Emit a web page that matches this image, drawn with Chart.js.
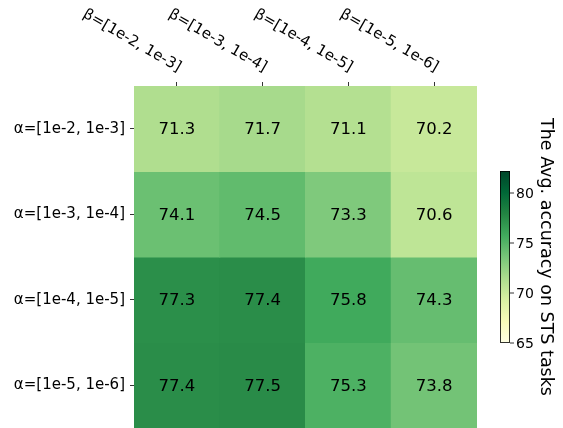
<!DOCTYPE html>
<html><head><meta charset="utf-8">
<script src="https://cdn.jsdelivr.net/npm/chart.js@4.4.0/dist/chart.umd.min.js"></script>
<style>html,body{margin:0;padding:0;background:#fff}#wrap{width:563px;height:428px}</style>
</head><body><div id="wrap"><canvas id="c" width="563" height="428"></canvas></div>
<script>
// Heatmap of average STS accuracy over alpha / beta ranges
const betaLabels = ['β=[1e-2, 1e-3]', 'β=[1e-3, 1e-4]', 'β=[1e-4, 1e-5]', 'β=[1e-5, 1e-6]'];
const alphaLabels = ['α=[1e-2, 1e-3]', 'α=[1e-3, 1e-4]', 'α=[1e-4, 1e-5]', 'α=[1e-5, 1e-6]'];
const rowAlpha1 = [71.3, 71.7, 71.1, 70.2];
const rowAlpha2 = [74.1, 74.5, 73.3, 70.6];
const rowAlpha3 = [77.3, 77.4, 75.8, 74.3];
const rowAlpha4 = [77.4, 77.5, 75.3, 73.8];
const colorMin = 65;
const colorMax = 82.2;
const colorbarTicks = [65, 70, 75, 80];
const colorbarTitle = 'The Avg. accuracy on STS tasks';

const rows = [rowAlpha1, rowAlpha2, rowAlpha3, rowAlpha4];
const FONT = '"DejaVu Sans", sans-serif';

// YlGn colour map stops
const ylgn = ['#ffffe5', '#f7fcb9', '#d9f0a3', '#addd8e', '#78c679', '#41ab5d', '#238443', '#006837', '#004529'];
function hexToRgb(h) { return [1, 3, 5].map(i => parseInt(h.slice(i, i + 2), 16)); }
const ylgnRgb = ylgn.map(hexToRgb);
function cmap(t) {
  t = Math.max(0, Math.min(1, t));
  const p = t * (ylgnRgb.length - 1);
  const i = Math.min(Math.floor(p), ylgnRgb.length - 2);
  const f = p - i;
  const a = ylgnRgb[i], b = ylgnRgb[i + 1];
  const c = a.map((v, k) => Math.round(v + (b[k] - v) * f));
  return `rgb(${c[0]},${c[1]},${c[2]})`;
}
function colorFor(v) { return cmap((v - colorMin) / (colorMax - colorMin)); }

const datasets = rows.map((vals, r) => ({
  label: alphaLabels[r],
  data: vals.map(() => [r, r + 1]),
  values: vals,
  backgroundColor: vals.map(colorFor),
  borderWidth: 0,
  grouped: false,
  barPercentage: 1,
  categoryPercentage: 1,
  inflateAmount: 0.5
}));

const overlay = {
  id: 'overlay',
  afterDatasetsDraw(chart) {
    const ctx = chart.ctx;
    ctx.save();
    ctx.fillStyle = '#000';
    ctx.font = '16.5px ' + FONT;
    ctx.textAlign = 'center';
    ctx.textBaseline = 'middle';
    chart.data.datasets.forEach((ds, i) => {
      chart.getDatasetMeta(i).data.forEach((bar, j) => {
        const p = bar.getCenterPoint();
        ctx.fillText(ds.values[j].toFixed(1), p.x, p.y + 1);
      });
    });
    ctx.restore();
  },
  afterDraw(chart) {
    const ctx = chart.ctx;
    const xs = chart.scales.x;
    ctx.save();
    // slanted column labels above the top axis
    ctx.fillStyle = '#000';
    ctx.font = '15px ' + FONT;
    xs.ticks.forEach((t, i) => {
      const x = xs.getPixelForTick(i);
      ctx.save();
      ctx.translate(x + 1, 72);
      ctx.rotate(Math.PI / 6);
      ctx.textAlign = 'right';
      ctx.textBaseline = 'alphabetic';
      ctx.fillText(betaLabels[i], 0, 0);
      ctx.restore();
    });

    // colour bar
    const cx0 = 500, cx1 = 510, cTop = 171, cBot = 343;
    const grad = ctx.createLinearGradient(0, cBot, 0, cTop);
    ylgn.forEach((c, i) => grad.addColorStop(i / (ylgn.length - 1), c));
    ctx.fillStyle = grad;
    ctx.fillRect(cx0, cTop, cx1 - cx0, cBot - cTop);
    ctx.strokeStyle = '#000';
    ctx.lineWidth = 0.8;
    ctx.strokeRect(cx0 + 0.4, cTop + 0.4, cx1 - cx0 - 0.8, cBot - cTop - 0.8);
    ctx.font = '14px ' + FONT;
    ctx.textAlign = 'left';
    ctx.textBaseline = 'middle';
    ctx.fillStyle = '#000';
    colorbarTicks.forEach(v => {
      const y = cBot - (v - colorMin) / (colorMax - colorMin) * (cBot - cTop);
      ctx.beginPath();
      ctx.moveTo(cx1, y);
      ctx.lineTo(cx1 + 4, y);
      ctx.lineWidth = 0.8;
      ctx.stroke();
      ctx.fillText(String(v), cx1 + 6, y + 1);
    });
    ctx.save();
    ctx.translate(546, (cTop + cBot) / 2);
    ctx.rotate(Math.PI / 2);
    ctx.font = '17.5px ' + FONT;
    ctx.textAlign = 'center';
    ctx.textBaseline = 'middle';
    ctx.fillText(colorbarTitle, 0, 0);
    ctx.restore();
    ctx.restore();
  }
};

new Chart(document.getElementById('c'), {
  type: 'bar',
  data: { labels: betaLabels, datasets },
  options: {
    responsive: false,
    animation: false,
    events: [],
    layout: { padding: { left: 0, right: 86, top: 0, bottom: 0 } },
    plugins: { legend: { display: false }, tooltip: { enabled: false } },
    scales: {
      x: {
        type: 'category',
        position: 'top',
        offset: true,
        grid: { offset: false, drawOnChartArea: false, drawTicks: true, tickLength: 4, tickColor: '#000', tickWidth: 0.8 },
        border: { display: false },
        ticks: { display: false },
        afterFit(s) { s.height = 86; s.paddingLeft = 0; s.paddingRight = 0; }
      },
      y: {
        type: 'linear',
        min: 0,
        max: 4,
        reverse: true,
        afterBuildTicks(s) { s.ticks = [0.5, 1.5, 2.5, 3.5].map(v => ({ value: v })); },
        grid: { drawOnChartArea: false, drawTicks: true, tickLength: 4, tickColor: '#000', tickWidth: 0.8 },
        border: { display: false },
        ticks: {
          padding: 5,
          color: '#000',
          font: { family: FONT, size: 15 },
          callback: (v, i) => alphaLabels[i]
        },
        afterFit(s) { s.width = 134; s.paddingTop = 0; s.paddingBottom = 0; }
      }
    }
  },
  plugins: [overlay]
});
</script>
</body></html>
